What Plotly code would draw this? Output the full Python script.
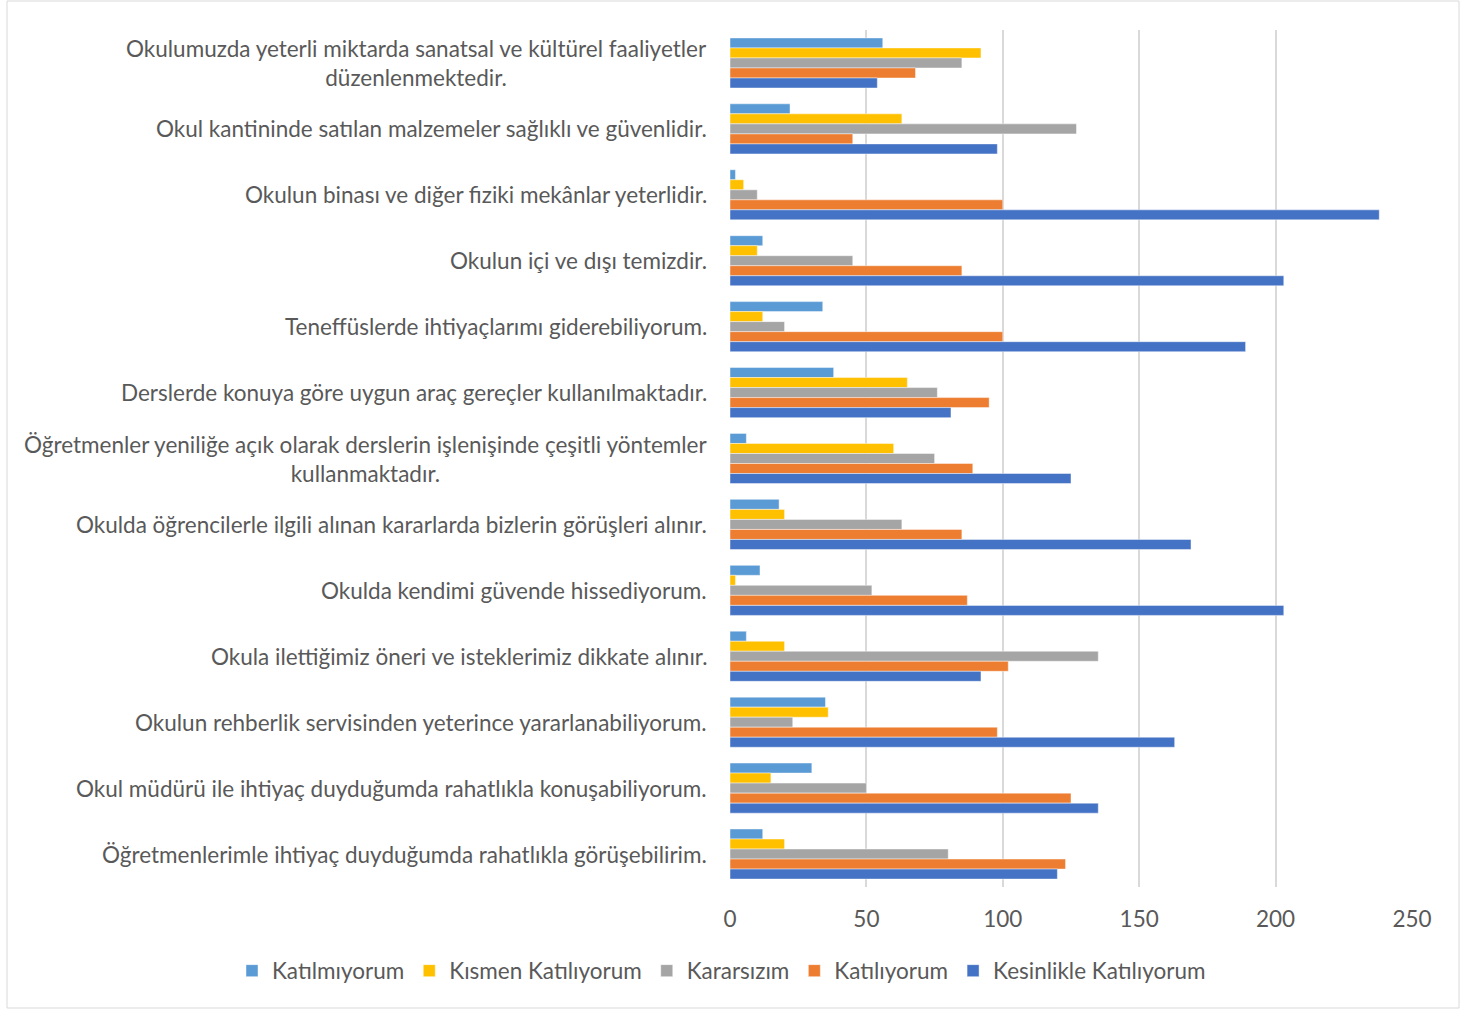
import plotly.graph_objects as go

categories = [
    "Okulumuzda yeterli miktarda sanatsal ve kültürel faaliyetler<br>düzenlenmektedir.",
    "Okul kantininde satılan malzemeler sağlıklı ve güvenlidir.",
    "Okulun binası ve diğer fiziki mekânlar yeterlidir.",
    "Okulun içi ve dışı temizdir.",
    "Teneffüslerde ihtiyaçlarımı giderebiliyorum.",
    "Derslerde konuya göre uygun araç gereçler kullanılmaktadır.",
    "Öğretmenler yeniliğe açık olarak derslerin işlenişinde çeşitli yöntemler<br>kullanmaktadır.",
    "Okulda öğrencilerle ilgili alınan kararlarda bizlerin görüşleri alınır.",
    "Okulda kendimi güvende hissediyorum.",
    "Okula ilettiğimiz öneri ve isteklerimiz dikkate alınır.",
    "Okulun rehberlik servisinden yeterince yararlanabiliyorum.",
    "Okul müdürü ile ihtiyaç duyduğumda rahatlıkla konuşabiliyorum.",
    "Öğretmenlerimle ihtiyaç duyduğumda rahatlıkla görüşebilirim.",
]

katilmiyorum = [56, 22, 2, 12, 34, 38, 6, 18, 11, 6, 35, 30, 12]
kismen = [92, 63, 5, 10, 12, 65, 60, 20, 2, 20, 36, 15, 20]
kararsizim = [85, 127, 10, 45, 20, 76, 75, 63, 52, 135, 23, 50, 80]
katiliyorum = [68, 45, 100, 85, 100, 95, 89, 85, 87, 102, 98, 125, 123]
kesinlikle = [54, 98, 238, 203, 189, 81, 125, 169, 203, 92, 163, 135, 120]

series_names = ["Katılmıyorum", "Kısmen Katılıyorum", "Kararsızım", "Katılıyorum", "Kesinlikle Katılıyorum"]
series_values = [katilmiyorum, kismen, kararsizim, katiliyorum, kesinlikle]
colors = ["#5B9BD5", "#FFC000", "#A5A5A5", "#ED7D31", "#4472C4"]

x_ticks = [0, 50, 100, 150, 200, 250]

FONT = "Lato"
FS = 22.5
TXT = "#595959"

W, H = 1475, 1010
L, R, T, B = 730, 1412, 30, 887


def px2x(p):
    return (p - L) / (R - L)


def py2y(p):
    return (B - p) / (B - T)


fig = go.Figure()
for name, vals, col in zip(series_names, series_values, colors):
    fig.add_trace(go.Bar(
        name=name, y=categories, x=vals, orientation="h",
        marker=dict(color=col, line=dict(color="rgba(255,255,255,0.6)", width=0.75)),
    ))

for cat in categories:
    fig.add_annotation(
        x=0, xref="paper", y=cat, yref="y", text=cat, showarrow=False,
        xanchor="right", yanchor="middle", align="center", xshift=-21,
        font=dict(family=FONT, size=FS, color=TXT),
    )

fig.add_shape(type="rect", xref="paper", yref="paper",
              x0=px2x(7), x1=px2x(1459), y0=py2y(1008), y1=py2y(1),
              line=dict(color="#D9D9D9", width=1), layer="below")

fig.update_layout(
    width=W, height=H,
    margin=dict(l=L, r=W - R, t=T, b=H - B, autoexpand=False),
    paper_bgcolor="white", plot_bgcolor="white",
    barmode="group", bargap=0.24, bargroupgap=0,
    font=dict(family=FONT, size=FS, color=TXT),
    xaxis=dict(range=[0, 250], tickvals=x_ticks, showgrid=True, gridcolor="#D9D9D9",
               gridwidth=2, zeroline=False, showline=False,
               tickfont=dict(family=FONT, size=FS, color=TXT), ticklabelstandoff=16),
    yaxis=dict(autorange="reversed", showticklabels=False, showgrid=False,
               zeroline=False, showline=False, type="category"),
    legend=dict(orientation="h", xref="paper", yref="paper",
                x=px2x(232), xanchor="left", y=py2y(971), yanchor="middle",
                font=dict(family=FONT, size=FS, color=TXT), itemwidth=30),
    showlegend=True,
)

fig.write_html("out.html", config={"displayModeBar": False},
               post_script="document.body.style.margin='0px';")
